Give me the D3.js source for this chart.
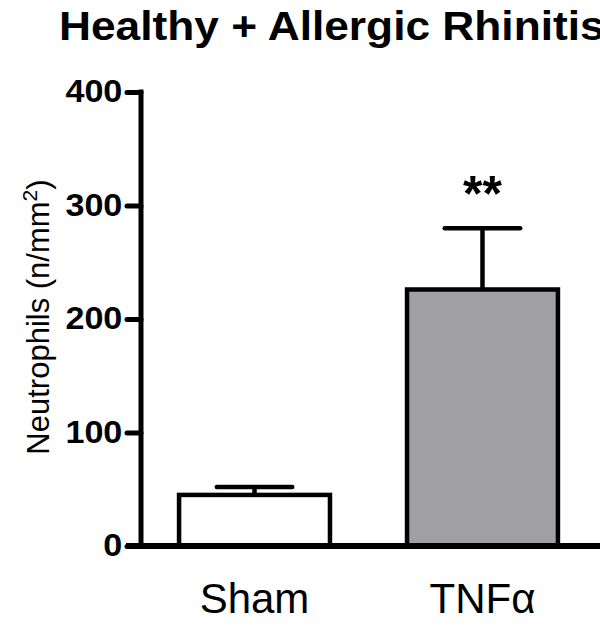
<!DOCTYPE html>
<html>
<head>
<meta charset="utf-8">
<script src="https://cdn.jsdelivr.net/npm/d3@7"></script>
<style>
  body { margin: 0; background: #fff; }
  text { font-family: "Liberation Sans", Arial, sans-serif; }
</style>
</head>
<body>
<svg id="chart" width="600" height="627"></svg>
<script>
let groups = ['Sham', 'TNF\u03b1'];
let means = [45, 226];
let errUpper = [52, 280];
let fills = ['#ffffff', '#a09fa4'];
let yTicks = [0, 100, 200, 300, 400];

let svg = d3.select('#chart');

let y = d3.scaleLinear().domain([0, 400]).range([546, 92]);
let x = d3.scaleBand().domain(groups).range([102, 635]).padding(0.338);

// title
svg.append('text')
  .attr('x', 59).attr('y', 40)
  .attr('font-size', 41).attr('font-weight', 'bold')
  .attr('transform', 'translate(59,0) scale(1.08,1) translate(-59,0)')
  .text('Healthy + Allergic Rhinitis');

// bars
let bars = svg.selectAll('.bar').data(groups).enter();

bars.append('line')
  .attr('x1', d => x(d) + x.bandwidth() / 2)
  .attr('x2', d => x(d) + x.bandwidth() / 2)
  .attr('y1', (d, i) => y(means[i]))
  .attr('y2', (d, i) => y(errUpper[i]))
  .attr('stroke', '#000').attr('stroke-width', 4.5);

bars.append('line')
  .attr('x1', d => x(d) + x.bandwidth() / 4)
  .attr('x2', d => x(d) + x.bandwidth() * 3 / 4)
  .attr('y1', (d, i) => y(errUpper[i]))
  .attr('y2', (d, i) => y(errUpper[i]))
  .attr('stroke', '#000').attr('stroke-width', 4.5)
  .attr('stroke-linecap', 'round');

bars.append('rect')
  .attr('class', 'bar')
  .attr('x', d => x(d))
  .attr('y', (d, i) => y(means[i]))
  .attr('width', x.bandwidth())
  .attr('height', (d, i) => y(0) - y(means[i]))
  .attr('fill', (d, i) => fills[i])
  .attr('stroke', '#000').attr('stroke-width', 4.5);

// significance
svg.append('text')
  .attr('x', x(groups[1]) + x.bandwidth() / 2)
  .attr('y', 211)
  .attr('text-anchor', 'middle')
  .attr('font-size', 50).attr('font-weight', 'bold')
  .text('**');

// y axis
let yAxis = svg.append('g')
  .attr('transform', 'translate(141,0)')
  .call(d3.axisLeft(y).tickValues(yTicks).tickSize(16).tickPadding(4));
yAxis.select('.domain').remove();
yAxis.selectAll('.tick line')
  .attr('stroke', '#000').attr('stroke-width', 5).attr('stroke-linecap', 'round')
  .attr('x1', 0).attr('x2', -14);
yAxis.selectAll('.tick text')
  .attr('font-size', 31).attr('font-weight', 'bold').attr('fill', '#000')
  .attr('font-family', '"Liberation Sans", Arial, sans-serif')
  .attr('x', -17)
  .attr('transform', 'scale(1.1,1)');

svg.append('line')
  .attr('x1', 141).attr('x2', 141)
  .attr('y1', y(400) - 2.5).attr('y2', y(0))
  .attr('stroke', '#000').attr('stroke-width', 5);

// x axis
svg.append('line')
  .attr('x1', 126).attr('x2', 600)
  .attr('y1', y(0)).attr('y2', y(0))
  .attr('stroke', '#000').attr('stroke-width', 6);

svg.selectAll('.xlab').data(groups).enter().append('text')
  .attr('class', 'xlab')
  .attr('x', d => x(d) + x.bandwidth() / 2)
  .attr('y', 613)
  .attr('text-anchor', 'middle')
  .attr('font-size', 42)
  .text(d => d);

// y label
let yl = svg.append('text')
  .attr('transform', 'translate(49,' + (y(200) - 2) + ') rotate(-90)')
  .attr('text-anchor', 'middle')
  .attr('font-size', 31);
yl.append('tspan').text('Neutrophils (n/mm');
yl.append('tspan').attr('dy', -12).attr('font-size', 21).text('2');
yl.append('tspan').attr('dy', 12).text(')');
</script>
</body>
</html>
